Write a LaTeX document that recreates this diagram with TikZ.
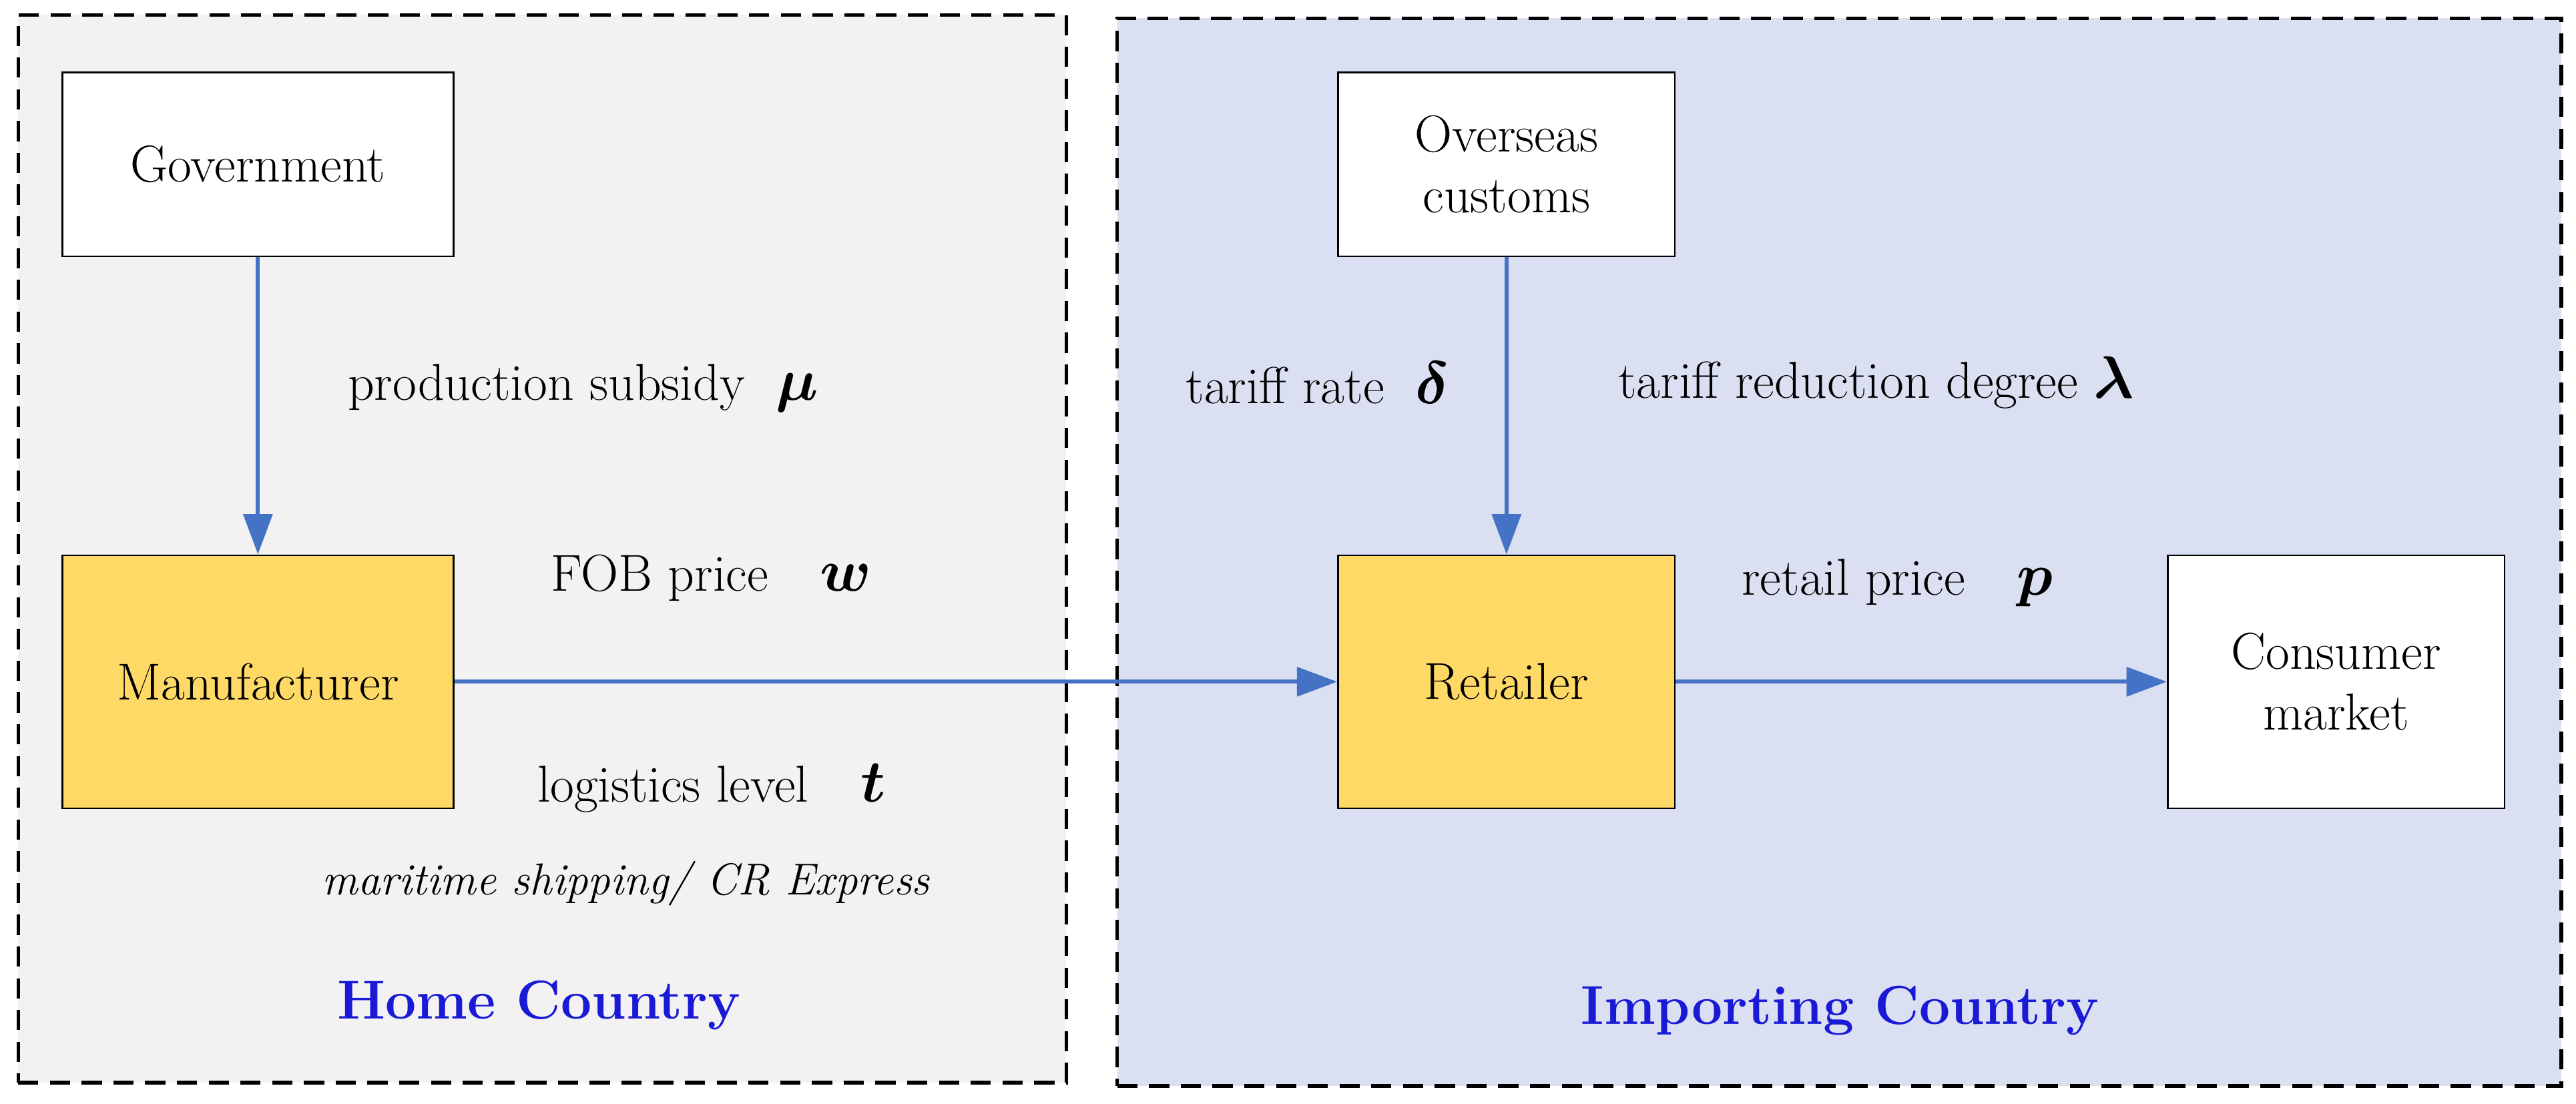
\documentclass[tikz,border=0pt]{standalone}
\usepackage{amsmath,bm}
\usetikzlibrary{arrows.meta}
\definecolor{arr}{HTML}{4472C4}
\definecolor{gbg}{HTML}{F2F2F2}
\definecolor{bbg}{HTML}{DAE0F2}
\definecolor{yel}{HTML}{FFD966}
\definecolor{ttl}{HTML}{1A1AD6}
\newcommand{\bsym}[1]{{\fontsize{22}{24}\selectfont$\bm{#1}$}}
\begin{document}
\begin{tikzpicture}[x=0.02cm,y=-0.02cm,
  every node/.style={font=\fontsize{18}{21}\selectfont},
  region/.style={draw,dashed,line width=1.2pt,dash pattern=on 7pt off 4pt},
  box/.style={draw,line width=0.6pt,align=center,inner sep=0pt},
  con/.style={draw=arr,line width=1.4pt,-{Triangle[length=14pt,width=10pt]}},
  lbl/.style={inner sep=0pt},
  title/.style={text=ttl,font=\fontsize{19}{22}\selectfont\bfseries}]
\useasboundingbox (0,0) rectangle (1568,672);
\node[region,fill=gbg,minimum width=638*0.02cm,minimum height=650*0.02cm,anchor=north west] (home) at (10,8) {};
\node[region,fill=bbg,minimum width=879*0.02cm,minimum height=650*0.02cm,anchor=north west] (imp) at (679,10) {};
\node[box,fill=white,minimum width=238*0.02cm,minimum height=112*0.02cm] (gov) at (157,100) {Government};
\node[box,fill=white,minimum width=205*0.02cm,minimum height=112*0.02cm] (cus) at (917,100) {Overseas\\customs};
\node[box,fill=yel,minimum width=238*0.02cm,minimum height=154*0.02cm] (man) at (157,415) {Manufacturer};
\node[box,fill=yel,minimum width=205*0.02cm,minimum height=154*0.02cm] (ret) at (917,415) {Retailer};
\node[box,fill=white,minimum width=205*0.02cm,minimum height=154*0.02cm] (con) at (1422,415) {Consumer\\market};
\draw[con] (gov) -- (man);
\draw[con] (cus) -- (ret);
\draw[con] (man) -- (ret);
\draw[con] (ret) -- (con);
\node[lbl] (l1) at (355,236) {production subsidy\ \ \bsym{\mu}};
\node[lbl] (l2) at (802,233) {tariff rate\ \ \bsym{\delta}};
\node[lbl] (l3) at (1142,233) {tariff reduction degree \bsym{\lambda}};
\node[lbl] (l4) at (433,352) {FOB price\quad \bsym{w}};
\node[lbl] (l5) at (433,480) {logistics level\quad \bsym{t}};
\node[lbl,font=\fontsize{15.5}{18}\selectfont\itshape] (l6) at (381,538) {maritime shipping/ CR Express};
\node[lbl] (l7) at (1155,355) {retail price\quad \bsym{p}};
\node[title] (t1) at (328,612) {Home Country};
\node[title] (t2) at (1120,615) {Importing Country};
\end{tikzpicture}
\end{document}
